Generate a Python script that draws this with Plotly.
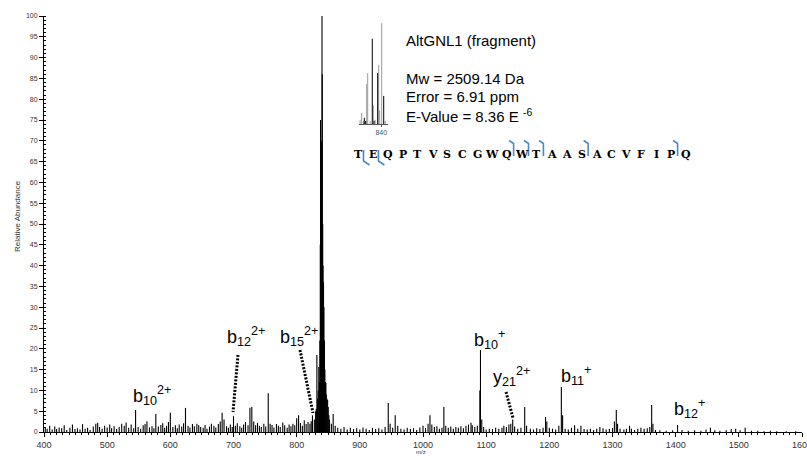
import plotly.graph_objects as go

# ---------------- data ----------------
peak_mz = [
    402, 405, 409, 413, 417, 420, 424, 428, 432, 436, 441, 445, 449, 453, 457, 461, 465, 469, 473,
    478, 482, 485, 488, 492, 496, 500, 504, 507, 511, 515, 519, 523, 527, 530, 534, 538, 542, 545,
    549, 553, 557, 560, 563, 567, 571, 574, 577, 581, 585, 588, 591, 594, 597, 600, 604, 608, 611,
    614, 618, 621, 624, 628, 631, 635, 638, 642, 645, 648, 652, 655, 658, 662, 665, 669, 672, 676,
    679, 682, 685, 689, 692, 695, 698, 700, 703, 706, 710, 713, 716, 719, 723, 726, 729, 732, 735,
    738, 741, 744, 748, 751, 755, 758, 761, 764, 768, 771, 774, 778, 781, 785, 788, 791, 794, 797,
    800, 803, 806, 809, 812, 815, 818, 821, 823, 825, 828, 830,
    831, 832, 833, 834, 835, 836, 836.7, 837.4, 837.8, 838.4, 839, 839.5, 840.1, 840.6, 841.2,
    841.8, 842.5, 843.2, 844, 844.7, 845.5, 846.3, 847, 848, 849, 850, 851, 852,
    855, 857.8, 861, 865, 870, 875, 880, 885, 890, 895, 900, 905, 910, 915, 920, 925, 930, 935,
    940, 945, 948, 952, 956, 960, 965, 970, 975, 980, 985, 990, 995, 1000, 1004, 1008, 1011, 1014,
    1018, 1022, 1026, 1030, 1033, 1036, 1040, 1044, 1048, 1052, 1056, 1060, 1064, 1068, 1072, 1076,
    1078, 1082, 1086, 1090, 1091, 1093, 1096, 1100, 1105, 1110, 1115, 1120, 1125, 1128, 1132, 1136,
    1139, 1142, 1145, 1150, 1155, 1161, 1164, 1170, 1175, 1180, 1185, 1190, 1194, 1196, 1200, 1205,
    1210, 1215, 1219, 1221, 1225, 1230, 1235, 1240, 1245, 1250, 1255, 1260, 1265, 1270, 1275, 1280,
    1285, 1290, 1295, 1300, 1303, 1306, 1308, 1312, 1318, 1322, 1327, 1330, 1335, 1340, 1345, 1350,
    1355, 1359, 1362, 1364, 1368, 1375, 1385, 1395, 1403, 1410, 1420, 1430, 1440, 1448, 1455, 1462,
    1470, 1480, 1488, 1495, 1502, 1510, 1520, 1530, 1540, 1550, 1560, 1575, 1590,
]
peak_int = [
    1.2, 0.8, 1.5, 0.6, 1.3, 0.7, 1.1, 0.9, 1.6, 0.5, 1.0, 1.8, 0.7, 0.9, 0.6, 1.9, 0.8, 1.0, 0.5,
    1.3, 2.0, 2.2, 1.2, 0.8, 1.5, 1.1, 1.8, 0.9, 1.4, 0.7, 1.2, 2.0, 1.5, 2.3, 1.0, 1.8, 0.9, 5.3,
    1.2, 0.8, 1.6, 1.9, 2.6, 1.1, 1.4, 0.9, 4.3, 1.3, 1.7, 2.1, 1.0, 1.5, 2.4, 4.6, 1.2, 1.6, 0.9,
    1.8, 1.3, 2.1, 5.8, 1.5, 1.1, 1.9, 1.4, 2.0, 1.6, 1.2, 1.0, 1.7, 0.8, 1.3, 2.0, 1.5, 1.1, 1.9,
    2.5, 4.6, 3.0, 1.4, 1.0, 1.8, 1.2, 3.8, 1.5, 2.1, 1.4, 1.0, 1.8, 2.4, 1.6, 5.8, 6.0, 2.5, 1.6,
    2.2, 1.5, 1.2, 2.0, 1.3, 9.3, 2.0, 1.7, 1.1, 1.9, 1.5, 1.2, 2.3, 1.6, 1.0, 1.8, 1.4, 2.0, 1.6,
    3.3, 4.0, 2.2, 1.5, 2.8, 1.9, 2.4, 2.0, 2.6, 4.0, 3.0, 5.0,
    5.5, 18.5, 8.0, 10.0, 15.6, 12.0, 22.0, 45.0, 75.0, 60.0, 55.0, 70.0, 100.0, 86.0, 50.0,
    40.0, 36.0, 30.0, 22.0, 15.0, 12.0, 11.8, 9.0, 8.0, 7.7, 6.0, 4.0, 3.0,
    2.0, 4.3, 1.5, 1.0, 0.8, 1.2, 0.6, 1.0, 0.7, 0.9, 0.6, 1.1, 0.8, 0.5, 1.0, 0.7, 0.9, 0.6,
    1.2, 7.0, 2.0, 1.0, 4.0, 1.5, 0.8, 0.6, 1.0, 0.7, 0.9, 0.5, 1.1, 1.5, 1.0, 2.0, 4.0, 1.8,
    1.2, 1.4, 0.8, 1.0, 6.0, 1.5, 1.0, 1.3, 0.8, 1.2, 1.0, 1.4, 0.9, 1.5, 1.8, 2.2,
    1.6, 1.2, 1.5, 10.0, 19.7, 3.0, 1.2, 0.6, 0.8, 0.7, 1.0, 0.8, 1.0, 1.5, 1.2, 1.8,
    2.0, 3.0, 1.3, 0.8, 1.0, 6.0, 1.5, 0.8, 0.6, 0.9, 0.7, 1.0, 3.6, 2.5, 1.0, 0.8,
    0.6, 1.5, 10.8, 4.0, 0.8, 0.6, 1.0, 1.6, 0.8, 1.5, 0.7, 0.6, 0.8, 0.5, 0.8, 1.2,
    0.9, 0.6, 0.8, 1.0, 2.5, 5.3, 2.0, 0.8, 0.6, 0.8, 1.5, 0.8, 0.5, 0.8, 1.0, 0.8,
    0.9, 1.2, 6.5, 2.0, 0.5, 0.4, 0.3, 0.4, 1.7, 0.5, 0.3, 0.4, 0.3, 0.6, 1.0, 0.4,
    0.3, 0.4, 0.7, 0.8, 0.4, 1.0, 0.3, 0.3, 0.2, 0.3, 0.2, 0.2, 0.2,
]

# inset (isotope envelope near m/z 840)
inset_gray_mz = [836.2, 836.48, 836.8, 837.38, 837.56, 838.0, 838.56, 838.9, 839.53, 839.71, 840.07, 840.7]
inset_gray_int = [4, 10.6, 3, 38.5, 49, 3, 18, 4, 57, 13, 97, 3]
inset_black_mz = [836.95, 837.2, 838.38, 838.7, 839.35, 840.43]
inset_black_int = [6, 3, 82, 3, 49, 27]
inset_ticks = [840]

x_ticks = list(range(400, 1601, 100))
y_ticks = list(range(0, 101, 5))

text_lines = ["AltGNL1 (fragment)", "Mw = 2509.14 Da", "Error = 6.91 ppm", "E-Value = 8.36 E <sup>-6</sup>"]
sequence = list("TEQPTVSCGWQWTAASACVFIPQ")
cleave_top = [11, 12, 13, 16, 22]      # fragment after residue n (1-based), marker above
cleave_bottom = [1, 2]                 # marker below

ion_labels = ["b<sub>10</sub><sup>2+</sup>", "b<sub>12</sub><sup>2+</sup>", "b<sub>15</sub><sup>2+</sup>",
              "b<sub>10</sub><sup>+</sup>", "y<sub>21</sub><sup>2+</sup>", "b<sub>11</sub><sup>+</sup>",
              "b<sub>12</sub><sup>+</sup>"]

# ---------------- layout geometry ----------------
# body margin is removed by a post script, so the figure fills the window exactly
OFF = 0
W, H = 807, 456
ML, MR, MT, MB = 44, 5, 16, 24
PW, PH = W - ML - MR, H - MT - MB


def pxx(p):
    """page pixel x -> paper fraction"""
    return (p - OFF - ML) / PW


def pxy(p):
    """page pixel y -> paper fraction"""
    return (H - MB - (p - OFF)) / PH


def sticks(mz, inten):
    xs, ys = [], []
    for m, h in zip(mz, inten):
        xs += [m, m, None]
        ys += [0, h, None]
    return xs, ys


fig = go.Figure()
sx, sy = sticks(peak_mz, peak_int)
fig.add_trace(go.Scatter(x=sx, y=sy, mode="lines", line=dict(color="black", width=1.1),
                         hoverinfo="skip", showlegend=False))

gx, gy = sticks(inset_gray_mz, inset_gray_int)
fig.add_trace(go.Scatter(x=gx, y=gy, mode="lines", line=dict(color="#9a9a9a", width=1),
                         xaxis="x2", yaxis="y2", hoverinfo="skip", showlegend=False))
bx, by = sticks(inset_black_mz, inset_black_int)
fig.add_trace(go.Scatter(x=bx, y=by, mode="lines", line=dict(color="black", width=1),
                         xaxis="x2", yaxis="y2", hoverinfo="skip", showlegend=False))

font_main = "Liberation Sans, Arial, sans-serif"
annotations = []
shapes = []

# info text block
for txt, yc in zip(text_lines, [40, 78, 96, 115]):
    annotations.append(dict(text=txt, x=pxx(404), y=pxy(yc), xref="paper", yref="paper",
                            xanchor="left", yanchor="middle", showarrow=False,
                            font=dict(family=font_main, size=15, color="black")))

# sequence
step = 14.91
x0 = 358
for i, aa in enumerate(sequence):
    annotations.append(dict(text=aa, x=pxx(x0 + i * step), y=pxy(154), xref="paper", yref="paper",
                            xanchor="center", yanchor="middle", showarrow=False,
                            font=dict(family="DejaVu Serif, serif", size=11, color="black", weight="bold")))

blue = "#4a88c8"
for n in cleave_top:
    xm = x0 + (n - 1) * step + 6.5
    path = f"M {pxx(xm - 4.5)},{pxy(140.5)} L {pxx(xm)},{pxy(143.5)} L {pxx(xm)},{pxy(156)}"
    shapes.append(dict(type="path", path=path, xref="paper", yref="paper",
                       line=dict(color=blue, width=1.6)))
for n in cleave_bottom:
    xm = x0 + (n - 1) * step + 5.5
    path = f"M {pxx(xm)},{pxy(150)} L {pxx(xm)},{pxy(161)} L {pxx(xm + 6)},{pxy(165)}"
    shapes.append(dict(type="path", path=path, xref="paper", yref="paper",
                       line=dict(color=blue, width=1.6)))

# ion labels
label_pos = [(152, 410), (246, 351), (299, 351), (489, 354), (511, 391), (576, 390), (689, 423)]
for txt, (cx, by_) in zip(ion_labels, label_pos):
    annotations.append(dict(text=txt, x=pxx(cx), y=pxy(by_), xref="paper", yref="paper",
                            xanchor="center", yanchor="bottom", showarrow=False,
                            font=dict(family=font_main, size=18, color="black")))

# dotted leader lines
leaders = [((238, 355), (233, 412)), ((300, 350), (313, 413)), ((506, 392), (513, 418))]
for (xa, ya), (xb, yb) in leaders:
    shapes.append(dict(type="line", xref="paper", yref="paper",
                       x0=pxx(xa), y0=pxy(ya), x1=pxx(xb), y1=pxy(yb),
                       line=dict(color="black", width=3, dash="2px,1.5px")))

# axis titles
annotations.append(dict(text="Relative Abundance", x=pxx(18), y=pxy(216), xref="paper", yref="paper",
                        textangle=-90, showarrow=False, xanchor="center", yanchor="middle",
                        font=dict(family=font_main, size=8, color="#333")))
annotations.append(dict(text="m/z", x=pxx(421), y=pxy(452), xref="paper", yref="paper",
                        showarrow=False, xanchor="center", yanchor="middle",
                        font=dict(family=font_main, size=6, color="#333")))

fig.update_layout(
    width=W, height=H,
    margin=dict(l=ML, r=MR, t=MT, b=MB, autoexpand=False),
    paper_bgcolor="white", plot_bgcolor="white",
    showlegend=False,
    xaxis=dict(range=[400, 1600], tickmode="array", tickvals=x_ticks, ticktext=[str(v) for v in x_ticks],
               ticks="outside", ticklen=4, tickwidth=1, tickcolor="black", ticklabeloverflow="allow",
               showline=True, linecolor="black", linewidth=1, showgrid=False, zeroline=False,
               tickfont=dict(family=font_main, size=9, color="#333"),
               minor=dict(dtick=10, tick0=400, ticks="outside", ticklen=2, tickcolor="black", showgrid=False)),
    yaxis=dict(range=[0, 100], tickmode="array", tickvals=y_ticks, ticktext=[str(v) for v in y_ticks],
               ticks="outside", ticklen=4, tickwidth=1, tickcolor="black",
               showline=True, linecolor="black", linewidth=1, showgrid=False, zeroline=False,
               tickfont=dict(family=font_main, size=7, color="#333"),
               minor=dict(dtick=1, tick0=0, ticks="inside", ticklen=2, tickcolor="black", showgrid=False)),
    xaxis2=dict(domain=[pxx(359), pxx(388)], anchor="y2", range=[836.0, 841.2],
                tickmode="array", tickvals=inset_ticks, ticktext=[str(v) for v in inset_ticks],
                ticks="outside", ticklen=2, tickcolor="#555", showline=True, linecolor="#555",
                linewidth=0.8, showgrid=False, zeroline=False,
                tickfont=dict(family=font_main, size=7, color="#555")),
    yaxis2=dict(domain=[pxy(124), pxy(20)], anchor="x2", range=[0, 100], visible=False),
    annotations=annotations,
    shapes=shapes,
)

fig.write_html("out.html", config={"displayModeBar": False},
               post_script="document.body.style.margin='0';document.body.style.overflow='hidden';")
